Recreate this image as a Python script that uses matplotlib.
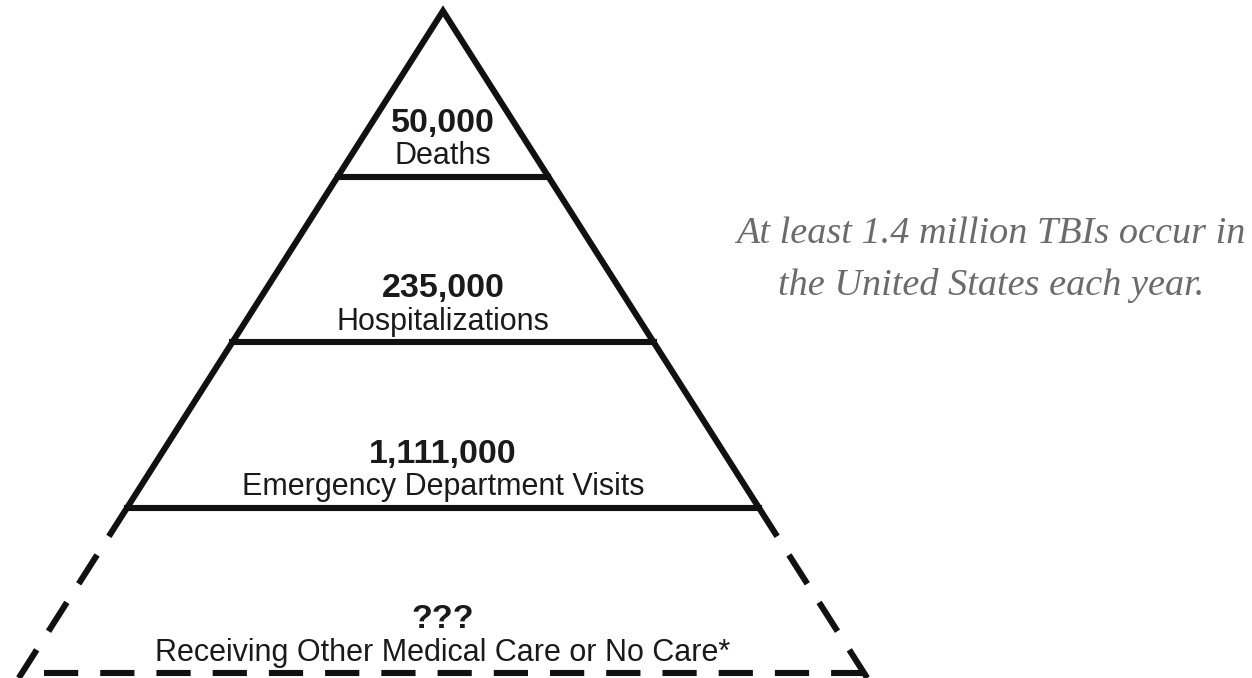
import matplotlib
matplotlib.use('Agg')
import matplotlib.pyplot as plt

# pyramid levels, top to bottom
counts = ['50,000', '235,000', '1,111,000', '???']
labels = ['Deaths', 'Hospitalizations', 'Emergency Department Visits',
          'Receiving Other Medical Care or No Care*']
note = 'At least 1.4 million TBIs occur in\nthe United States each year.'

W, H = 1252, 678
fig = plt.figure(figsize=(W / 100, H / 100), dpi=100)
ax = fig.add_axes([0, 0, 1, 1])
ax.set_xlim(0, W)
ax.set_ylim(H, 0)
ax.axis('off')

# geometry in pixels
cx, apex_y = 443, 11
level_h = 165.5
slope = 0.636
lw = 4.4
n = len(counts)
ink = '#1a1a1a'


def half(y):
    return (y - apex_y) * slope


ys = [apex_y + level_h * (i + 1) for i in range(n)]
solid_bottom = ys[n - 2]
base_y = ys[-1]

# solid sides of known levels
ax.plot([cx - half(solid_bottom), cx, cx + half(solid_bottom)],
        [solid_bottom, apex_y, solid_bottom], color='#111111', lw=lw,
        solid_joinstyle='miter', solid_capstyle='butt')
for y in ys[:-1]:
    ax.plot([cx - half(y), cx + half(y)], [y, y], color='#111111', lw=lw,
            solid_capstyle='projecting')

# dashed bottom level
dash = (0, (5.6, 3.6))
for s in (-1, 1):
    ax.plot([cx + s * half(solid_bottom), cx + s * half(base_y + 5)],
            [solid_bottom, base_y + 5], color='#111111', lw=lw,
            linestyle=dash, dash_capstyle='butt')
ax.plot([cx - half(base_y) + 22, cx + half(base_y)], [base_y, base_y],
        color='#111111', lw=lw, linestyle=dash, dash_capstyle='butt')

for i, (c, lab) in enumerate(zip(counts, labels)):
    yb = ys[i]
    ax.text(cx, yb - 53, c, ha='center', va='center', fontsize=24.5,
            fontweight='bold', family='Liberation Sans', color=ink)
    ax.text(cx, yb - 20, lab, ha='center', va='center', fontsize=22,
            family='Liberation Sans', color=ink)

ax.text(991, 260, note, ha='center', va='center', fontsize=27.5,
        style='italic', family='Liberation Serif', color='#6b6b6b',
        linespacing=1.64)

fig.savefig('out.png', dpi=100)
